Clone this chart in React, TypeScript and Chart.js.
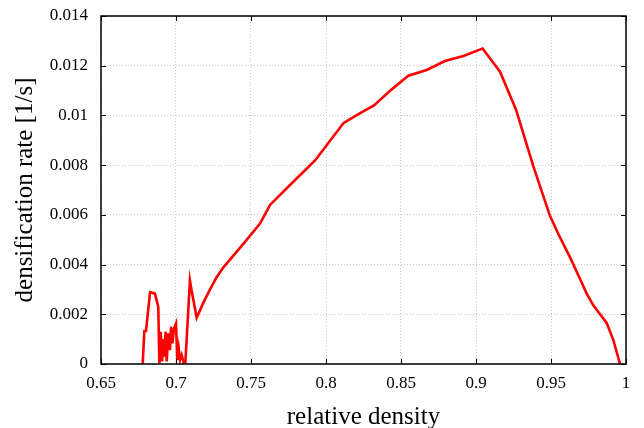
import React, { useEffect, useRef } from "react";
import { Chart, registerables } from "chart.js";

Chart.register(...registerables);

const relativeDensity = [
  0.6778, 0.6789, 0.68, 0.6827, 0.686, 0.6882, 0.6889, 0.6898, 0.6907, 0.6916,
  0.692, 0.6931, 0.6938, 0.6949, 0.696, 0.6967, 0.6976, 0.6987, 0.7, 0.7009,
  0.7018, 0.7027, 0.7038, 0.7049, 0.706, 0.7093, 0.7104, 0.7138, 0.7185, 0.7227,
  0.7271, 0.7316, 0.7449, 0.756, 0.7627, 0.776, 0.7927, 0.8116, 0.8216, 0.832,
  0.8427, 0.8549, 0.8671, 0.8793, 0.8916, 0.9044, 0.916, 0.9267, 0.9382, 0.9493,
  0.9549, 0.9627, 0.9693, 0.9738, 0.9782, 0.9871, 0.9916, 0.996,
];
const densificationRate = [
  0.0, 0.00133, 0.00133, 0.00289, 0.00283, 0.00229, 0.00003, 0.0013, 0.0001, 0.001,
  0.0003, 0.0013, 0.0001, 0.00123, 0.00056, 0.0015, 0.00083, 0.00143, 0.00163, 0.00016,
  0.00063, 0.00016, 0.00036, 0.0001, -0.0002, 0.00336, 0.00296, 0.00186, 0.0025, 0.003,
  0.00349, 0.00389, 0.00483, 0.00565, 0.0064, 0.0072, 0.00819, 0.00969, 0.01005, 0.0104,
  0.01099, 0.0116, 0.01183, 0.01219, 0.01239, 0.01269, 0.01176, 0.01023, 0.00796, 0.00596,
  0.00523, 0.00429, 0.00343, 0.00283, 0.00236, 0.00165, 0.00096, 0.0,
];
const xTicks = [0.65, 0.7, 0.75, 0.8, 0.85, 0.9, 0.95, 1];
const yTicks = [0, 0.002, 0.004, 0.006, 0.008, 0.01, 0.012, 0.014];

const framePlugin = {
  id: "frame",
  afterDraw(chart: any) {
    const { ctx, chartArea } = chart;
    const xs = chart.scales.x;
    const ys = chart.scales.y;
    ctx.save();
    ctx.strokeStyle = "#000";
    ctx.lineWidth = 1;
    const L = 5;
    ctx.beginPath();
    xTicks.forEach((v) => {
      const px = Math.round(xs.getPixelForValue(v)) + 0.5;
      ctx.moveTo(px, chartArea.bottom);
      ctx.lineTo(px, chartArea.bottom - L);
      ctx.moveTo(px, chartArea.top);
      ctx.lineTo(px, chartArea.top + L);
    });
    yTicks.forEach((v) => {
      const py = Math.round(ys.getPixelForValue(v)) + 0.5;
      ctx.moveTo(chartArea.left, py);
      ctx.lineTo(chartArea.left + L, py);
      ctx.moveTo(chartArea.right, py);
      ctx.lineTo(chartArea.right - L, py);
    });
    ctx.stroke();
    ctx.lineWidth = 1.5;
    ctx.strokeRect(chartArea.left, chartArea.top, chartArea.right - chartArea.left, chartArea.bottom - chartArea.top);
    ctx.restore();
  },
};

const fmt = (v: number) => String(Number(Number(v).toFixed(3)));

export default function App() {
  const ref = useRef<HTMLCanvasElement>(null);
  useEffect(() => {
    document.body.style.margin = "0";
    const data = relativeDensity.map((x, i) => ({ x, y: densificationRate[i] }));
    const font = "'Liberation Serif', 'DejaVu Serif', serif";
    const chart = new Chart(ref.current!, {
      type: "scatter",
      data: {
        datasets: [
          {
            data,
            showLine: true,
            borderColor: "#ff0000",
            backgroundColor: "#ff0000",
            borderWidth: 2.6,
            pointRadius: 0,
            tension: 0,
          },
        ],
      },
      options: {
        animation: false,
        responsive: false,
        layout: { padding: { top: 16, right: 18, left: 0, bottom: 0 } },
        plugins: { legend: { display: false }, tooltip: { enabled: false } },
        scales: {
          x: {
            type: "linear",
            min: 0.65,
            max: 1,
            afterBuildTicks: (s: any) => {
              s.ticks = xTicks.map((v) => ({ value: v }));
            },
            afterFit: (s: any) => {
              s.height = 64;
              s.paddingLeft = 0;
              s.paddingRight = 0;
            },
            ticks: {
              callback: (v: any) => fmt(v),
              font: { family: font, size: 17 },
              color: "#000",
              padding: 9,
              maxRotation: 0,
            },
            grid: { color: "#c8c8c8", lineWidth: 1, drawTicks: false },
            border: { display: false, dash: [1, 2] },
            title: {
              display: true,
              text: "relative density",
              font: { family: font, size: 25, lineHeight: 0.85 },
              color: "#000",
              padding: { top: 0, bottom: 0 },
            },
          },
          y: {
            type: "linear",
            min: 0,
            max: 0.014,
            afterBuildTicks: (s: any) => {
              s.ticks = yTicks.map((v) => ({ value: v }));
            },
            afterFit: (s: any) => {
              s.width = 101;
              s.paddingTop = 0;
              s.paddingBottom = 0;
            },
            ticks: {
              callback: (v: any) => fmt(v),
              font: { family: font, size: 17 },
              color: "#000",
              padding: 13,
            },
            grid: { color: "#c8c8c8", lineWidth: 1, drawTicks: false },
            border: { display: false, dash: [1, 2] },
            title: {
              display: true,
              text: "densification rate [1/s]",
              font: { family: font, size: 25, lineHeight: 1 },
              color: "#000",
              padding: { top: 13, bottom: 0 },
            },
          },
        },
      },
      plugins: [framePlugin],
    } as any);
    return () => chart.destroy();
  }, []);
  return (
    <div style={{ position: "absolute", left: 0, top: 0, width: 644, height: 428 }}>
      <canvas ref={ref} width={644} height={428} />
    </div>
  );
}
